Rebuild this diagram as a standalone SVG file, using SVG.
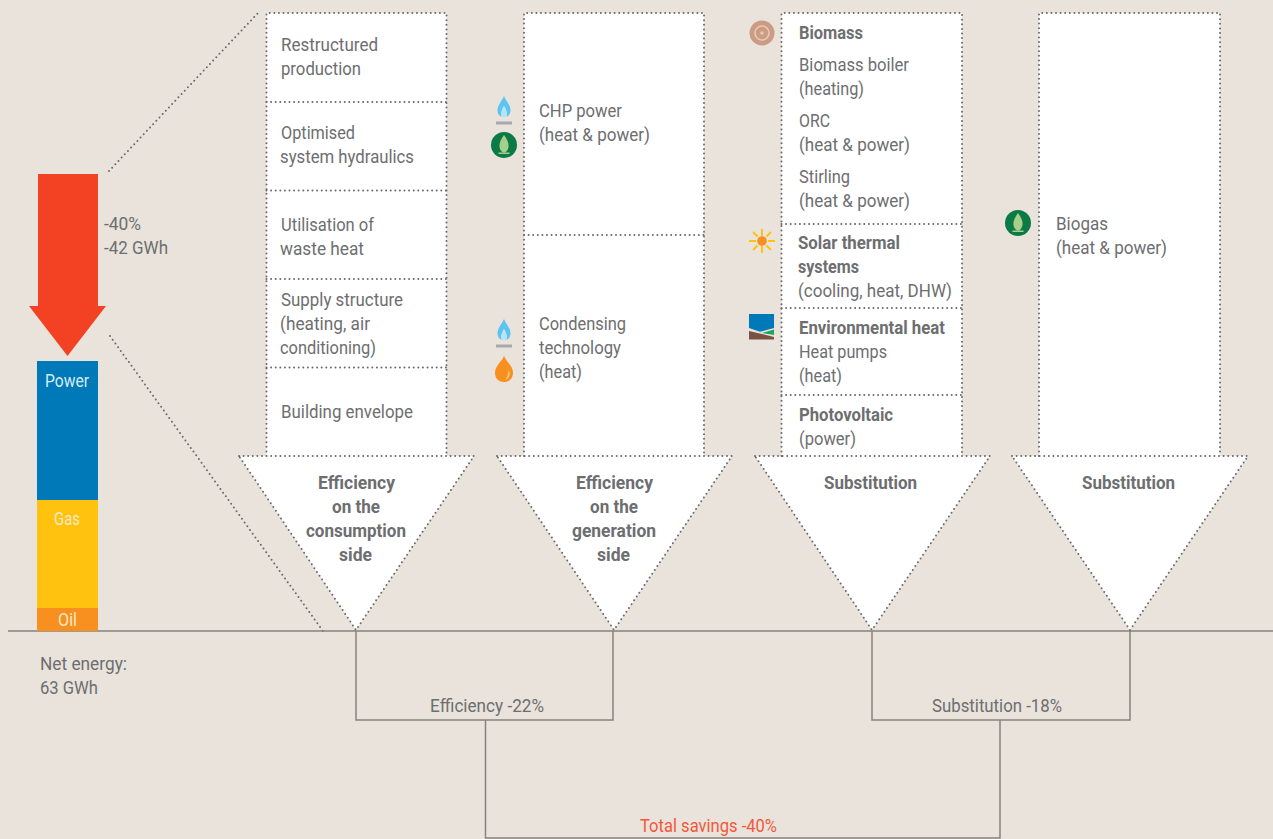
<svg xmlns="http://www.w3.org/2000/svg" width="1273" height="839" viewBox="0 0 1273 839">
<style>
text{font-family:Roboto,"Liberation Sans",sans-serif;font-size:18px;fill:#6d6e70}
.b{font-weight:700}
.w{fill:#f4e9c8}
.r{fill:#f2593a}
.box{fill:#fff}
.dot{fill:none;stroke:#6a6a6a;stroke-width:2;stroke-dasharray:0 4.6;stroke-linecap:round}
.ln{fill:none;stroke:#86837c;stroke-width:1.5}
.flame{fill:#5bc4f1}
.bar{fill:#a7a9ac}
.gc{fill:#0b7a45}
.gl{fill:#a6cf8b}
</style>
<defs>
<g id="flame"><path d="M0,-14C2,-9 6.500,-5 6.500,0.500C6.500,3.500 4.500,6 2.500,7C3.500,3 2,-1 0,-4C-2,-1 -3.500,3 -2.500,7C-4.500,6 -6.500,3.500 -6.500,0.500C-6.500,-5 -2,-9 0,-14Z" class="flame"/><path d="M-2.500,7C-3.500,3 -2,-1 0,-4C2,-1 3.500,3 2.500,7Z" fill="#b5e3f7"/><rect x="-8" y="11.500" width="16" height="3" class="bar"/></g>
<g id="leaf"><circle r="13" class="gc"/><path d="M0,-10C3,-6 5,-2 4.500,2C4,5 2.500,6.500 1,7.500H-1C-2.500,6.500 -4,5 -4.500,2C-5,-2 -3,-6 0,-10Z" class="gl"/><rect x="-5.500" y="7.500" width="11" height="1.500" class="gl"/></g>
</defs>
<rect width="1273" height="839" fill="#e9e3dc"/>
<g id="connectors">
<path class="dot" d="M109,171L258,13"/>
<path class="dot" d="M110,336L323,631"/>
<path class="ln" d="M8,631H1273"/>
<path class="ln" d="M356,631V720H613V631"/>
<path class="ln" d="M872,631V720H1130V631"/>
<path class="ln" d="M485.500,720V838H1000V720"/>
</g>
<g id="arrow"><path d="M38,174H98V306H106L67.500,356L29,306H38Z" fill="#f34123"/>
<text x="104" y="229.500" textLength="37" lengthAdjust="spacingAndGlyphs">-40%</text>
<text x="104" y="253.500" textLength="64" lengthAdjust="spacingAndGlyphs">-42 GWh</text></g>
<g id="energy-stack">
<rect x="37" y="361" width="61" height="139" fill="#0079b8"/>
<rect x="37" y="500" width="61" height="108" fill="#ffc20e"/>
<rect x="37" y="608" width="61" height="23" fill="#f7901e"/>
<text x="45" y="386.500" textLength="44" lengthAdjust="spacingAndGlyphs" style="fill:#d6ecf5">Power</text>
<text class="w" x="54" y="524.500" textLength="26" lengthAdjust="spacingAndGlyphs">Gas</text>
<text class="w" x="58" y="625.500" textLength="19" lengthAdjust="spacingAndGlyphs">Oil</text>
</g>
<g id="col-consumption">
<path class="box" d="M266.500,13H446.500V456H474L356,630L239,456H266.500Z"/>
<path class="dot" d="M266.500,456V13H446.500V456M239,456H474L356,630Z"/>
<path class="dot" d="M266.500,102H446.500M266.500,190.500H446.500M266.500,279H446.500M266.500,367.500H446.500"/>
<text x="281" y="50.500" textLength="97" lengthAdjust="spacingAndGlyphs">Restructured</text>
<text x="281" y="74.500" textLength="80" lengthAdjust="spacingAndGlyphs">production</text>
<text x="281" y="138.500" textLength="74" lengthAdjust="spacingAndGlyphs">Optimised</text>
<text x="280" y="162.500" textLength="134" lengthAdjust="spacingAndGlyphs">system hydraulics</text>
<text x="281" y="230.500" textLength="93" lengthAdjust="spacingAndGlyphs">Utilisation of</text>
<text x="280" y="254.500" textLength="84" lengthAdjust="spacingAndGlyphs">waste heat</text>
<text x="281" y="305.500" textLength="122" lengthAdjust="spacingAndGlyphs">Supply structure</text>
<text x="280" y="329.500" textLength="90" lengthAdjust="spacingAndGlyphs">(heating, air</text>
<text x="280" y="353.500" textLength="96" lengthAdjust="spacingAndGlyphs">conditioning)</text>
<text x="281" y="417.500" textLength="132" lengthAdjust="spacingAndGlyphs">Building envelope</text>
<text class="b" x="318" y="488.500" textLength="77" lengthAdjust="spacingAndGlyphs">Efficiency</text>
<text class="b" x="332" y="512.500" textLength="48" lengthAdjust="spacingAndGlyphs">on the</text>
<text class="b" x="306" y="536.500" textLength="100" lengthAdjust="spacingAndGlyphs">consumption</text>
<text class="b" x="339" y="560.500" textLength="33" lengthAdjust="spacingAndGlyphs">side</text>
</g>
<g id="col-generation">
<path class="box" d="M524,13H704V456H732L614,630L497,456H524Z"/>
<path class="dot" d="M524,456V13H704V456M497,456H732L614,630Z"/>
<path class="dot" d="M524,235H704"/>
<use href="#flame" x="504" y="110"/>
<use href="#leaf" x="504" y="145"/>
<use href="#flame" x="504" y="333"/>
<path d="M504,355.500C505,361 513,365 513,373C513,379 508.500,382 504,382C499.500,382 495,379 495,373C495,365 503,361 504,355.500Z" fill="#f7901e"/>
<path d="M508.500,370C511,374 509,378.500 505,380C507.500,377 508.500,373.500 508.500,370Z" fill="#fcd09a"/>
<text x="539" y="116.500" textLength="83" lengthAdjust="spacingAndGlyphs">CHP power</text>
<text x="539" y="140.500" textLength="111" lengthAdjust="spacingAndGlyphs">(heat &amp; power)</text>
<text x="539" y="329.500" textLength="87" lengthAdjust="spacingAndGlyphs">Condensing</text>
<text x="539" y="353.500" textLength="82" lengthAdjust="spacingAndGlyphs">technology</text>
<text x="539" y="377.500" textLength="43" lengthAdjust="spacingAndGlyphs">(heat)</text>
<text class="b" x="576" y="488.500" textLength="77" lengthAdjust="spacingAndGlyphs">Efficiency</text>
<text class="b" x="590" y="512.500" textLength="48" lengthAdjust="spacingAndGlyphs">on the</text>
<text class="b" x="572" y="536.500" textLength="84" lengthAdjust="spacingAndGlyphs">generation</text>
<text class="b" x="597" y="560.500" textLength="33" lengthAdjust="spacingAndGlyphs">side</text>
</g>
<g id="col-substitution">
<path class="box" d="M781.500,13H962V456H990L872,630L755,456H781.500Z"/>
<path class="dot" d="M781.500,456V13H962V456M755,456H990L872,630Z"/>
<path class="dot" d="M781.500,224H962M781.500,308H962M781.500,395H962"/>
<circle cx="762" cy="33" r="12.500" fill="#cc9a85"/>
<circle cx="762" cy="33" r="7" fill="none" stroke="#e3cdb0" stroke-width="1.600"/>
<circle cx="762" cy="33" r="1.800" fill="#e3cdb0"/>
<path d="M762,229V236M762,246V253M749,241H756M768,241H775M753,232L757.500,236.500M766.500,245.500L771,250M771,232L766.500,236.500M757.500,245.500L753,250" fill="none" stroke="#ffc20e" stroke-width="2"/>
<circle cx="762" cy="241" r="4.800" fill="#f7901e"/>
<path d="M749,314H774V328L760,331.700L749,328Z" fill="#0079b8"/>
<path d="M762,333L774,329.500V335Z" fill="#1fa65a"/>
<path d="M749,331L774,337V339.500H749Z" fill="#7a5242"/>
<text class="b" x="799" y="38.500" textLength="64" lengthAdjust="spacingAndGlyphs">Biomass</text>
<text x="799" y="70.500" textLength="110" lengthAdjust="spacingAndGlyphs">Biomass boiler</text>
<text x="799" y="94.500" textLength="65" lengthAdjust="spacingAndGlyphs">(heating)</text>
<text x="799" y="126.500" textLength="31" lengthAdjust="spacingAndGlyphs">ORC</text>
<text x="799" y="150.500" textLength="111" lengthAdjust="spacingAndGlyphs">(heat &amp; power)</text>
<text x="799" y="182.500" textLength="51" lengthAdjust="spacingAndGlyphs">Stirling</text>
<text x="799" y="206.500" textLength="111" lengthAdjust="spacingAndGlyphs">(heat &amp; power)</text>
<text class="b" x="798" y="248.500" textLength="102" lengthAdjust="spacingAndGlyphs">Solar thermal</text>
<text class="b" x="798" y="272.500" textLength="61" lengthAdjust="spacingAndGlyphs">systems</text>
<text x="798" y="296.500" textLength="154" lengthAdjust="spacingAndGlyphs">(cooling, heat, DHW)</text>
<text class="b" x="799" y="333.500" textLength="146" lengthAdjust="spacingAndGlyphs">Environmental heat</text>
<text x="799" y="357.500" textLength="88" lengthAdjust="spacingAndGlyphs">Heat pumps</text>
<text x="799" y="381.500" textLength="43" lengthAdjust="spacingAndGlyphs">(heat)</text>
<text class="b" x="799" y="420.500" textLength="94" lengthAdjust="spacingAndGlyphs">Photovoltaic</text>
<text x="799" y="444.500" textLength="57" lengthAdjust="spacingAndGlyphs">(power)</text>
<text class="b" x="824" y="488.500" textLength="93" lengthAdjust="spacingAndGlyphs">Substitution</text>
</g>
<g id="col-biogas">
<path class="box" d="M1039,13H1220V456H1248L1130,630L1012,456H1039Z"/>
<path class="dot" d="M1039,456V13H1220V456M1012,456H1248L1130,630Z"/>
<use href="#leaf" x="1018" y="223"/>
<text x="1056" y="229.500" textLength="52" lengthAdjust="spacingAndGlyphs">Biogas</text>
<text x="1056" y="253.500" textLength="111" lengthAdjust="spacingAndGlyphs">(heat &amp; power)</text>
<text class="b" x="1082" y="488.500" textLength="93" lengthAdjust="spacingAndGlyphs">Substitution</text>
</g>
<g id="labels">
<text x="40" y="669.500" textLength="87" lengthAdjust="spacingAndGlyphs">Net energy:</text>
<text x="40" y="693.500" textLength="58" lengthAdjust="spacingAndGlyphs">63 GWh</text>
<text x="430" y="711.500" textLength="114" lengthAdjust="spacingAndGlyphs">Efficiency -22%</text>
<text x="932" y="711.500" textLength="130" lengthAdjust="spacingAndGlyphs">Substitution -18%</text>
<text class="r" x="640" y="831.500" textLength="137" lengthAdjust="spacingAndGlyphs">Total savings -40%</text>
</g>
</svg>
